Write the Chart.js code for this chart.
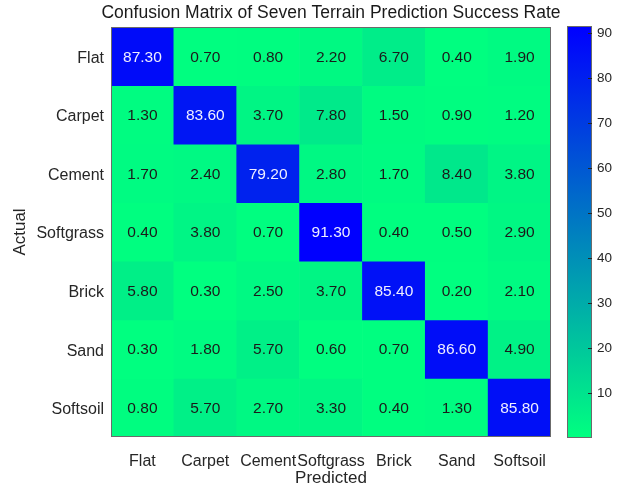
<!DOCTYPE html>
<html lang="en">
<head>
    <meta charset="UTF-8">
    <title>Confusion Matrix</title>
    <script src="https://cdn.jsdelivr.net/npm/chart.js"></script>
    <style>
        body {
            margin: 0;
            background: #ffffff;
        }
        #wrap {
            width: 629px;
            height: 493px;
        }
    </style>
</head>
<body>
    <div id="wrap"><canvas id="matrixChart"></canvas></div>

    <script>
        // Terrain classes (rows = actual, columns = predicted)
        const actualLabels = ['Flat', 'Carpet', 'Cement', 'Softgrass', 'Brick', 'Sand', 'Softsoil'];
        const predictedLabels = ['Flat', 'Carpet', 'Cement', 'Softgrass', 'Brick', 'Sand', 'Softsoil'];

        // Success rates (%) per actual terrain
        const flatRow      = [87.30, 0.70, 0.80, 2.20, 6.70, 0.40, 1.90];
        const carpetRow    = [1.30, 83.60, 3.70, 7.80, 1.50, 0.90, 1.20];
        const cementRow    = [1.70, 2.40, 79.20, 2.80, 1.70, 8.40, 3.80];
        const softgrassRow = [0.40, 3.80, 0.70, 91.30, 0.40, 0.50, 2.90];
        const brickRow     = [5.80, 0.30, 2.50, 3.70, 85.40, 0.20, 2.10];
        const sandRow      = [0.30, 1.80, 5.70, 0.60, 0.70, 86.60, 4.90];
        const softsoilRow  = [0.80, 5.70, 2.70, 3.30, 0.40, 1.30, 85.80];
        const rows = [flatRow, carpetRow, cementRow, softgrassRow, brickRow, sandRow, softsoilRow];

        // Colour bar ticks
        const colorbarTicks = [10, 20, 30, 40, 50, 60, 70, 80, 90];

        const chartTitle = 'Confusion Matrix of Seven Terrain Prediction Success Rate';

        const allValues = rows.flat();
        const vMin = Math.min(...allValues);
        const vMax = Math.max(...allValues);

        // green -> blue (flipped "winter")
        function cellColor(v) {
            const t = Math.max(0, Math.min(1, (v - vMin) / (vMax - vMin)));
            const g = Math.round(255 * (1 - t));
            const b = Math.round(255 * (0.5 + 0.5 * t));
            return `rgb(0,${g},${b})`;
        }

        const textColor = '#262626';
        const fontFamily = "'Liberation Sans', Arial, Helvetica, sans-serif";

        // one floating-bar dataset per actual row
        const datasets = rows.map((vals, r) => ({
            label: actualLabels[r],
            data: vals.map(() => [r - 0.5, r + 0.5]),
            rates: vals,
            backgroundColor: vals.map(cellColor),
            borderWidth: 0,
            grouped: false,
            barPercentage: 1,
            categoryPercentage: 1
        }));

        // values written inside each cell
        const cellText = {
            id: 'cellText',
            afterDatasetsDraw(chart) {
                const ctx = chart.ctx;
                ctx.save();
                ctx.font = `15.5px ${fontFamily}`;
                ctx.textAlign = 'center';
                ctx.textBaseline = 'middle';
                chart.data.datasets.forEach((ds, i) => {
                    chart.getDatasetMeta(i).data.forEach((el, j) => {
                        const v = ds.rates[j];
                        ctx.fillStyle = v > 50 ? '#eeeeff' : '#1a1a1a';
                        ctx.fillText(v.toFixed(2), el.x, (el.y + el.base) / 2 + 1);
                    });
                });
                ctx.restore();
            }
        };

        // title centred over the matrix, frame, colour bar
        const frameAndColorbar = {
            id: 'frameAndColorbar',
            afterDraw(chart) {
                const ctx = chart.ctx;
                const a = chart.chartArea;
                const cb = chart.scales.cb;
                ctx.save();

                ctx.fillStyle = '#1a1a1a';
                ctx.font = `17.5px ${fontFamily}`;
                ctx.textAlign = 'center';
                ctx.textBaseline = 'middle';
                ctx.fillText(chartTitle, (a.left + a.right) / 2, 13);

                ctx.strokeStyle = '#6b6b6b';
                ctx.lineWidth = 1;
                ctx.strokeRect(a.left + 0.5, a.top + 0.5, a.right - a.left - 1, a.bottom - a.top - 1);

                const x0 = a.right + 16;
                const w = 25;
                const yTop = cb.getPixelForValue(vMax);
                const yBot = cb.getPixelForValue(vMin);
                const grad = ctx.createLinearGradient(0, yBot, 0, yTop);
                grad.addColorStop(0, cellColor(vMin));
                grad.addColorStop(1, cellColor(vMax));
                ctx.fillStyle = grad;
                ctx.fillRect(x0, yTop - 1, w, yBot - yTop + 2);
                ctx.strokeRect(x0 + 0.5, yTop - 0.5, w - 1, yBot - yTop + 1);

                ctx.strokeStyle = '#262626';
                colorbarTicks.forEach(t => {
                    const y = Math.round(cb.getPixelForValue(t)) + 0.5;
                    ctx.beginPath();
                    ctx.moveTo(x0 + w - 4, y);
                    ctx.lineTo(x0 + w, y);
                    ctx.stroke();
                });
                ctx.restore();
            }
        };

        const ctx = document.getElementById('matrixChart').getContext('2d');
        new Chart(ctx, {
            type: 'bar',
            data: {
                labels: predictedLabels,
                datasets: datasets
            },
            options: {
                responsive: true,
                maintainAspectRatio: false,
                animation: false,
                layout: { padding: { top: 27 } },
                plugins: {
                    legend: { display: false },
                    tooltip: { enabled: false },
                    title: { display: false }
                },
                scales: {
                    x: {
                        type: 'category',
                        offset: true,
                        grid: { display: false, drawTicks: false },
                        border: { display: false },
                        ticks: {
                            color: textColor,
                            font: { family: fontFamily, size: 16 },
                            padding: 15,
                            maxRotation: 0,
                            autoSkip: false
                        },
                        title: {
                            display: true,
                            text: 'Predicted',
                            color: textColor,
                            font: { family: fontFamily, size: 17 },
                            padding: { top: 0, bottom: 4 }
                        },
                        afterFit: s => { s.height = 56; }
                    },
                    y: {
                        type: 'linear',
                        min: -0.5,
                        max: 6.5,
                        reverse: true,
                        grid: { display: false, drawTicks: false },
                        border: { display: false },
                        afterBuildTicks: s => { s.ticks = actualLabels.map((_, i) => ({ value: i })); },
                        ticks: {
                            color: textColor,
                            font: { family: fontFamily, size: 16 },
                            padding: 7,
                            labelOffset: 2,
                            callback: v => actualLabels[v]
                        },
                        title: {
                            display: true,
                            text: 'Actual',
                            color: textColor,
                            font: { family: fontFamily, size: 17 },
                            padding: { top: 10, bottom: 0 }
                        },
                        afterFit: s => {
                            s.width = 111;
                            s.paddingTop = 0;
                            s.paddingBottom = 0;
                        }
                    },
                    cb: {
                        axis: 'y',
                        type: 'linear',
                        position: 'right',
                        min: vMin,
                        max: vMax,
                        grid: { display: false, drawTicks: false },
                        border: { display: false },
                        afterBuildTicks: s => { s.ticks = colorbarTicks.map(v => ({ value: v })); },
                        ticks: {
                            color: textColor,
                            font: { family: fontFamily, size: 13.5 },
                            padding: 46
                        },
                        afterFit: s => {
                            s.width = 78;
                            s.paddingTop = 0;
                            s.paddingBottom = 0;
                        }
                    }
                }
            },
            plugins: [cellText, frameAndColorbar]
        });
    </script>
</body>
</html>
